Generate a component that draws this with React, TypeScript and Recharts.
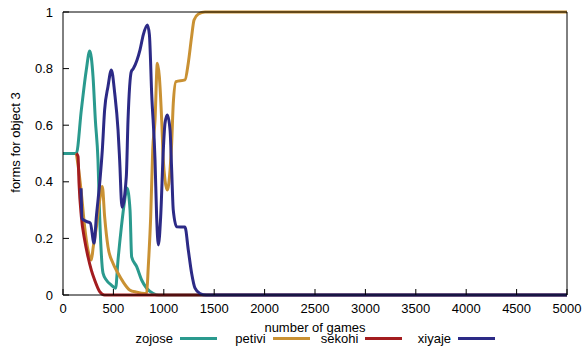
import { LineChart, Line, XAxis, YAxis, Legend } from "recharts";

// number of games (x) and share of the form (y) for each word
const zojoseGames = [0, 132, 182, 231, 265, 298, 321, 347, 364, 397, 430, 480, 522, 546, 579, 612, 635, 665, 681, 731, 780, 830, 896, 950, 5000];
const zojoseForms = [0.5, 0.5, 0.654, 0.795, 0.862, 0.771, 0.618, 0.477, 0.277, 0.077, 0.053, 0.035, 0.024, 0.124, 0.24, 0.335, 0.378, 0.3, 0.135, 0.1, 0.053, 0.024, 0.005, 0, 0];

const petiviGames = [132, 149, 182, 215, 248, 281, 300, 331, 364, 390, 413, 446, 496, 546, 595, 661, 731, 813, 830, 846, 870, 890, 913, 936, 956, 979, 995, 1012, 1035, 1062, 1078, 1094, 1121, 1210, 1243, 1276, 1300, 1343, 1409, 5000];
const petiviForms = [0.5, 0.46, 0.36, 0.24, 0.159, 0.124, 0.17, 0.24, 0.335, 0.383, 0.277, 0.171, 0.112, 0.077, 0.047, 0.018, 0.01, 0.005, 0.006, 0.1, 0.277, 0.512, 0.618, 0.819, 0.771, 0.618, 0.477, 0.406, 0.371, 0.442, 0.536, 0.677, 0.754, 0.76, 0.82, 0.913, 0.972, 0.993, 1, 1];

const sekohiGames = [132, 149, 159, 182, 215, 248, 281, 314, 364, 413, 5000];
const sekohiForms = [0.5, 0.49, 0.395, 0.277, 0.194, 0.135, 0.088, 0.053, 0.012, 0, 0];

const xiyajeGames = [179, 190, 231, 271, 308, 331, 364, 390, 413, 446, 480, 513, 546, 562, 585, 628, 645, 678, 698, 764, 797, 837, 857, 880, 913, 929, 946, 969, 995, 1012, 1035, 1062, 1078, 1094, 1128, 1210, 1243, 1276, 1310, 1359, 1420, 5000];
const xiyajeForms = [0.377, 0.27, 0.26, 0.254, 0.183, 0.277, 0.395, 0.512, 0.654, 0.736, 0.795, 0.713, 0.583, 0.477, 0.31, 0.418, 0.618, 0.79, 0.8, 0.866, 0.92, 0.954, 0.92, 0.71, 0.477, 0.277, 0.177, 0.277, 0.512, 0.607, 0.636, 0.583, 0.442, 0.3, 0.241, 0.24, 0.159, 0.077, 0.024, 0.005, 0, 0];

const xTicks = [0, 500, 1000, 1500, 2000, 2500, 3000, 3500, 4000, 4500, 5000];
const yTicks = [0, 0.2, 0.4, 0.6, 0.8, 1];

const SERIES = [
  { name: "zojose", color: "#2a9a8e", games: zojoseGames, forms: zojoseForms },
  { name: "petivi", color: "#c99133", games: petiviGames, forms: petiviForms },
  { name: "sekohi", color: "#a31c1f", games: sekohiGames, forms: sekohiForms },
  { name: "xiyaje", color: "#2c2a86", games: xiyajeGames, forms: xiyajeForms },
];

const FONT = "'Liberation Sans', Arial, sans-serif";
const tickStyle = { fill: "#000", fontSize: 13, fontFamily: FONT };
const axisStroke = { stroke: "#000", strokeWidth: 1 };

function YLabel({ viewBox }: any) {
  const cx = viewBox.x + 15;
  const cy = viewBox.y + viewBox.height / 2 - 11;
  return (
    <text
      x={cx}
      y={cy}
      transform={`rotate(-90 ${cx} ${cy})`}
      textAnchor="middle"
      dominantBaseline="central"
      fontSize={13}
      fontFamily={FONT}
      fill="#000"
    >
      forms for object 3
    </text>
  );
}

function XLabel({ viewBox }: any) {
  return (
    <text
      x={viewBox.x + viewBox.width / 2}
      y={viewBox.y + viewBox.height - 2}
      textAnchor="middle"
      fontSize={13}
      fontFamily={FONT}
      fill="#000"
    >
      number of games
    </text>
  );
}

// gnuplot-style key: label right-aligned, sample line after it (plot order)
function KeyContent() {
  return (
    <div style={{ position: "relative", width: 583, height: 14, fontFamily: FONT, fontSize: 13, color: "#000" }}>
      {SERIES.map((s, i) => {
        const end = 173 + i * 92.7;
        return (
          <div key={s.name}>
            <span style={{ position: "absolute", left: end - 100, width: 100, top: 0, lineHeight: "14px", textAlign: "right" }}>
              {s.name}
            </span>
            <span style={{ position: "absolute", left: end + 7, top: 5, width: 37, height: 3, background: s.color }} />
          </div>
        );
      })}
    </div>
  );
}

export default function App() {
  return (
    <div style={{ position: "absolute", left: 0, top: 0, background: "#fff" }}>
      <LineChart width={583} height={348} margin={{ top: 11, right: 15, bottom: 0, left: 0 }}>
        <XAxis
          dataKey="games"
          type="number"
          domain={[0, 5000]}
          ticks={xTicks}
          height={39}
          tick={tickStyle}
          tickSize={-6}
          tickMargin={15}
          axisLine={axisStroke}
          tickLine={axisStroke}
          allowDuplicatedCategory={false}
          label={<XLabel />}
        />
        <XAxis
          xAxisId="top"
          orientation="top"
          dataKey="games"
          type="number"
          domain={[0, 5000]}
          ticks={xTicks}
          height={1}
          tickFormatter={() => ""}
          tickSize={-6}
          axisLine={axisStroke}
          tickLine={axisStroke}
          allowDuplicatedCategory={false}
        />
        <YAxis
          type="number"
          domain={[0, 1]}
          ticks={yTicks}
          width={63}
          tick={tickStyle}
          tickSize={-6}
          tickMargin={16}
          axisLine={axisStroke}
          tickLine={axisStroke}
          tickFormatter={(v: number) => String(v)}
          label={<YLabel />}
        />
        <YAxis
          yAxisId="right"
          orientation="right"
          type="number"
          domain={[0, 1]}
          ticks={yTicks}
          width={1}
          tickFormatter={() => ""}
          tickSize={-6}
          axisLine={axisStroke}
          tickLine={axisStroke}
        />
        <Legend
          content={<KeyContent />}
          wrapperStyle={{ left: 0, bottom: 2, width: 583, height: 14 }}
        />
        {SERIES.map((s) => (
          <Line
            key={s.name}
            name={s.name}
            data={s.games.map((g, i) => ({ games: g, forms: s.forms[i] }))}
            dataKey="forms"
            type="monotone"
            stroke={s.color}
            strokeWidth={3}
            dot={false}
            activeDot={false}
            isAnimationActive={false}
          />
        ))}
      </LineChart>
    </div>
  );
}
